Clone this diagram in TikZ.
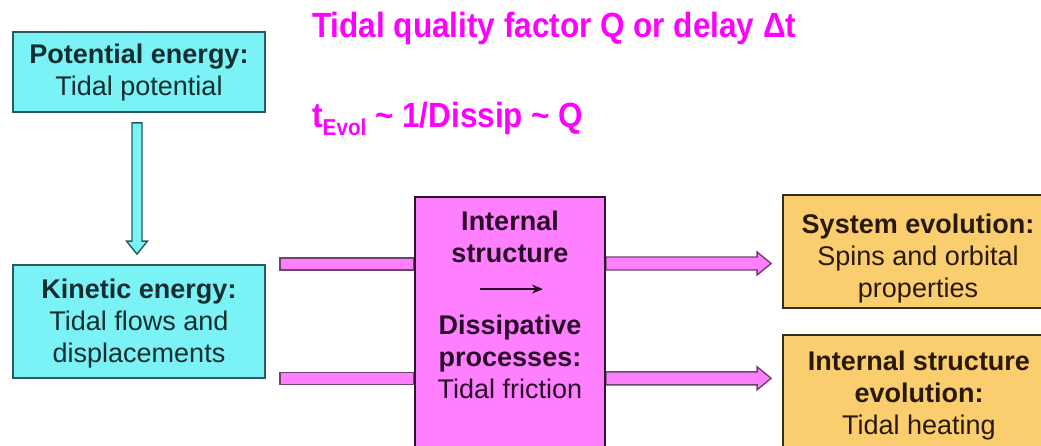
\documentclass[tikz,border=0pt]{standalone}
\usepackage{fontspec}
\setmainfont{Liberation Sans}
\newfontfamily\headfont[FakeStretch=0.9]{Liberation Sans}
\usetikzlibrary{calc,arrows.meta}

\definecolor{cyanfill}{RGB}{122,242,246}
\definecolor{cyanline}{RGB}{40,90,95}
\definecolor{cyaninkc}{RGB}{20,45,48}
\definecolor{pinkfill}{RGB}{255,128,255}
\definecolor{pinkline}{RGB}{45,20,45}
\definecolor{pinkedge}{RGB}{110,65,110}
\definecolor{pinkink}{RGB}{40,10,40}
\definecolor{orangefill}{RGB}{250,205,110}
\definecolor{orangeline}{RGB}{55,45,30}
\definecolor{orangeink}{RGB}{40,25,10}
\definecolor{headmagenta}{RGB}{255,0,255}

\tikzset{
  boxshape/.style={rectangle, inner sep=0pt, line width=1.8pt},
  cyanbox/.style={boxshape, fill=cyanfill, draw=cyanline},
  pinkbox/.style={boxshape, fill=pinkfill, draw=pinkline},
  orangebox/.style={boxshape, fill=orangefill, draw=orangeline},
  % multi-line labels are placed by the baseline of their last line
  boxtext/.style={inner sep=0pt, align=center, anchor=base, font=\fontsize{27}{32}\selectfont},
  cyantext/.style={boxtext, text=cyaninkc},
  pinktext/.style={boxtext, text=pinkink},
  orangetext/.style={boxtext, text=orangeink},
  headtext/.style={inner sep=0pt, text=headmagenta, font=\headfont\bfseries\fontsize{35}{35}\selectfont},
  fatarrow/.style={fill=pinkfill, draw=pinkedge, line width=1.4pt, line join=miter,
    to path={($(\tikztostart)+(0,-6.5)$) -- ($(\tikztotarget)+(-14,-6.5)$)
      -- ($(\tikztotarget)+(-14,-11.5)$) -- (\tikztotarget)
      -- ($(\tikztotarget)+(-14,11.5)$) -- ($(\tikztotarget)+(-14,6.5)$)
      -- ($(\tikztostart)+(0,6.5)$) -- cycle}},
  fatbar/.style={fill=pinkfill, draw=pinkedge, line width=1.4pt,
    to path={($(\tikztostart)+(0,-6)$) rectangle ($(\tikztotarget)+(0,6)$)}},
  downarrow/.style={fill=cyanfill, draw=cyanline, line width=1.4pt, line join=miter}
}

\begin{document}
\begin{tikzpicture}[x=1pt,y=-1pt]
\useasboundingbox (0,0) rectangle (1041,445);
\clip (0,0) rectangle (1041,445);
\fill[white] (0,0) rectangle (1041,445);

% headline and evolution timescale
\node[headtext, anchor=base west] (title) at (312,37) {Tidal quality factor Q or delay Δt};
\node[headtext, anchor=base west] (tevol) at (312,127)
  {t\raisebox{-8pt}{\fontsize{23}{23}\selectfont Evol} \textasciitilde{} 1/Dissip \textasciitilde{} Q};

% energy boxes on the left
\node[cyanbox, minimum width=252pt, minimum height=80pt] (pot) at (139,72) {};
\node[cyantext] (pottext) at (139,95) {\textbf{Potential energy:}\\Tidal potential};
\node[cyanbox, minimum width=252pt, minimum height=113pt] (kin) at (139,321.5) {};
\node[cyantext] (kintext) at (139,362) {\textbf{Kinetic energy:}\\Tidal flows and\\displacements};

% potential -> kinetic
\coordinate (dtop) at ($(pot.south)+(-2,10)$);
\coordinate (dtip) at ($(kin.north)+(-2,-10)$);
\draw[downarrow] ($(dtop)+(-5,0)$) -- ($(dtip)+(-5,-13)$) -- ($(dtip)+(-10.5,-13)$)
  -- (dtip) -- ($(dtip)+(10.5,-13)$) -- ($(dtip)+(5,-13)$) -- ($(dtop)+(5,0)$) -- cycle;

% central dissipation box geometry
\path (510,328.5) node[boxshape, minimum width=190pt, minimum height=263pt] (corefoot) {};

% flows into and out of the central box
\coordinate (in1) at (280,264);
\coordinate (in2) at (280,378.5);
\draw[fatbar] (in1) to (corefoot.west |- in1);
\draw[fatbar] (in2) to (corefoot.west |- in2);

\node[orangebox, minimum width=268pt, minimum height=113pt] (sys) at (917,251.5) {};
\node[orangebox, minimum width=268pt, minimum height=125pt] (ise) at (917,397.5) {};

\coordinate (out1) at (corefoot.east |- 0,263.5);
\coordinate (out2) at (corefoot.east |- 0,378.3);
\draw[fatarrow] (out1) to ($(sys.west |- out1)+(-11,0)$);
\draw[fatarrow] (out2) to ($(ise.west |- out2)+(-11,0)$);

% central box drawn over the arrow ends
\node[pinkbox, minimum width=190pt, minimum height=263pt] (core) at (510,328.5) {};
\node[pinktext] (coretop) at (510,262) {\textbf{Internal}\\\textbf{structure}};
\node[pinktext] (corebot) at (510,398) {\textbf{Dissipative}\\\textbf{processes:}\\Tidal friction};
\coordinate (m1) at ($(core.north)+(-30,93)$);
\coordinate (m2) at ($(core.north)+(33,93)$);
\draw[pinkink, line width=1.8pt, -{Stealth[length=11pt,width=9pt]}] (m1) -- (m2);

% results on the right
\node[orangetext] (systext) at (918,297) {\textbf{System evolution:}\\Spins and orbital\\properties};
\node[orangetext] (isetext) at (919,434) {\textbf{Internal structure}\\\textbf{evolution:}\\Tidal heating};
\end{tikzpicture}
\end{document}
